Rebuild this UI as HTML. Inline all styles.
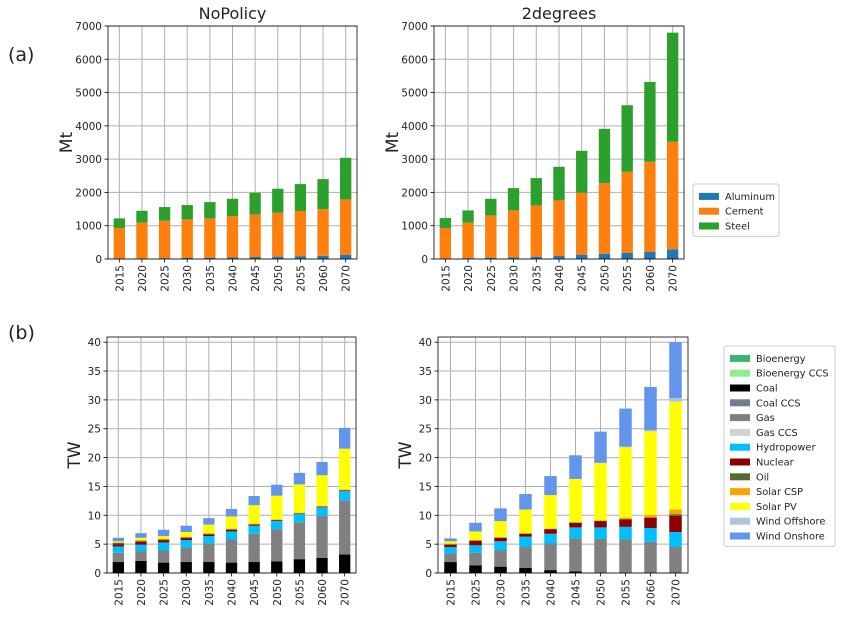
<!DOCTYPE html>
<html><head><meta charset="utf-8"><style>
body{margin:0;background:#fff;}
svg text{font-family:"DejaVu Sans","Liberation Sans",sans-serif;fill:#222;}
</style></head><body>
<svg id="fig" width="844" height="617" viewBox="0 0 844 617" xmlns="http://www.w3.org/2000/svg">
<text x="8" y="61" font-size="19">(a)</text>
<text x="8" y="339" font-size="19">(b)</text>
</svg>
<script>
const yearsA = ['2015','2020','2025','2030','2035','2040','2045','2050','2055','2060','2070'];
const yearsB = ['2015','2025','2030','2035','2040','2045','2050','2055','2060','2070'];
const matNames = ['Aluminum','Cement','Steel'];
const matColors = ['#1f77b4','#ff7f0e','#2ca02c'];
const npAluminum = [10,20,25,30,40,45,60,70,85,95,130];
const npCement = [920,1070,1125,1160,1180,1245,1280,1320,1355,1405,1660];
const npSteel = [290,360,410,430,490,520,650,720,810,900,1250];
const tdAluminum = [10,25,40,50,70,90,130,160,190,210,290];
const tdCement = [920,1065,1270,1410,1540,1670,1860,2120,2430,2710,3230];
const tdSteel = [300,370,500,670,820,1010,1260,1630,2000,2400,3280];
const matTicks = [0,1000,2000,3000,4000,5000,6000,7000];
const techNames = ['Bioenergy','Bioenergy CCS','Coal','Coal CCS','Gas','Gas CCS','Hydropower','Nuclear','Oil','Solar CSP','Solar PV','Wind Offshore','Wind Onshore'];
const techColors = ['#3cb371','#90ee90','#000000','#708090','#808080','#d3d3d3','#00bfff','#8b0000','#556b2f','#ffa500','#ffff00','#b0c4de','#6495ed'];
const npCoal = [1.9,2.1,1.8,1.9,1.9,1.8,1.9,2.0,2.4,2.6,3.2];
const npGas = [1.6,1.7,2.1,2.5,3.2,4.0,4.9,5.6,6.4,7.3,9.4];
const npHydro = [1.1,1.1,1.4,1.3,1.3,1.4,1.4,1.4,1.4,1.5,1.6];
const npNuclear = [0.4,0.5,0.4,0.4,0.3,0.3,0.2,0.15,0.1,0.1,0.1];
const npOil = [0.2,0.2,0.1,0.1,0.1,0.1,0.05,0.05,0.05,0.05,0.05];
const npCSP = [0.1,0.1,0.1,0.1,0.1,0.1,0.1,0.1,0.1,0.1,0.1];
const npSolar = [0.2,0.4,0.5,0.8,1.5,2.1,3.2,4.1,4.9,5.3,7.1];
const npWindOff = [0,0,0,0,0,0,0,0,0,0,0];
const npWind = [0.6,0.8,1.1,1.1,1.1,1.3,1.6,1.9,2.0,2.3,3.6];
const tdCoal = [1.9,1.3,1.1,0.9,0.5,0.3,0,0,0,0];
const tdGas = [1.5,2.2,2.8,3.6,4.6,5.7,5.9,5.8,5.4,4.5];
const tdHydro = [1.1,1.3,1.6,1.8,1.7,1.9,2.0,2.2,2.4,2.6];
const tdNuclear = [0.4,0.8,0.6,0.5,0.8,0.8,1.1,1.3,1.8,2.8];
const tdOil = [0.1,0.05,0.05,0.05,0.05,0.05,0.05,0.05,0.05,0.3];
const tdCSP = [0.1,0.05,0.05,0.05,0.05,0.05,0.1,0.25,0.4,0.8];
const tdSolar = [0.4,1.5,2.8,4.1,5.8,7.5,9.9,12.2,14.5,18.7];
const tdWindOff = [0,0,0,0,0,0,0.05,0.1,0.2,0.6];
const tdWind = [0.5,1.5,2.2,2.7,3.3,4.1,5.4,6.6,7.5,9.7];
const powTicks = [0,5,10,15,20,25,30,35,40];

const NS='http://www.w3.org/2000/svg';
const svg=document.getElementById('fig');
function mk(tag,attrs,parent){const e=document.createElementNS(NS,tag);for(const k in attrs)e.setAttribute(k,attrs[k]);(parent||svg).appendChild(e);return e;}

function panel(o){
  const g=mk('g',{});
  
  
  const n=o.cats.length, w=o.x1-o.x0, slot=w/n;
  const xc=i=>o.x0+slot*(i+0.5);
  const ys=v=>o.y1-(v/o.ymax)*(o.y1-o.y0);
  o.ticks.forEach(t=>{const y=ys(t);
    const l=mk('line',{x1:o.x0,x2:o.x1,y1:y,y2:y,stroke:'#b0b0b0','stroke-width':1},g);
    
    const tk=mk('line',{x1:o.x0-3.5,x2:o.x0,y1:y,y2:y,stroke:'#000','stroke-width':0.8},g);
    
    const tx=mk('text',{x:o.x0-6,y:y+4,'font-size':10.5,'text-anchor':'end'},g);tx.textContent=t;
    
  });
  o.cats.forEach((c,i)=>{const x=xc(i);
    const l=mk('line',{x1:x,x2:x,y1:o.y0,y2:o.y1,stroke:'#b0b0b0','stroke-width':1},g);
    
    const tk=mk('line',{x1:x,x2:x,y1:o.y1,y2:o.y1+3.5,stroke:'#000','stroke-width':0.8},g);
    
    const tx=mk('text',{x:0,y:0,'font-size':10.5,'text-anchor':'end',transform:`translate(${x+4},${o.y1+6}) rotate(-90)`},g);tx.textContent=c;
    
  });
  const bw=slot*0.5;
  o.cats.forEach((c,i)=>{let acc=0;
    o.series.forEach((s,k)=>{const v=s[i];if(!v){return;}
      const r=mk('rect',{x:xc(i)-bw/2,y:ys(acc+v),width:bw,height:ys(acc)-ys(acc+v),fill:o.colors[k]},g);
      
      
      acc+=v;});
  });
  const f=mk('rect',{x:o.x0,y:o.y0,width:w,height:o.y1-o.y0,fill:'none',stroke:'#000','stroke-width':0.8},g);
  
  const yl=mk('text',{x:0,y:0,'font-size':17,'text-anchor':'middle',transform:`translate(${o.ylx},${(o.y0+o.y1)/2}) rotate(-90)`},g);yl.textContent=o.ylabel;
  
  if(o.title){const t=mk('text',{x:(o.x0+o.x1)/2,y:o.y0-7,'font-size':16,'text-anchor':'middle'},g);t.textContent=o.title;
    }
}
panel({name:'panel-nopolicy-materials',cats:yearsA,x0:108,x1:357,y0:26,y1:259,ymax:7000,ticks:matTicks,series:[npAluminum,npCement,npSteel],colors:matColors,labels:matNames,ylabel:'Mt',ylx:72,title:'NoPolicy'});
panel({name:'panel-2degrees-materials',cats:yearsA,x0:434,x1:684,y0:26,y1:259,ymax:7000,ticks:matTicks,series:[tdAluminum,tdCement,tdSteel],colors:matColors,labels:matNames,ylabel:'Mt',ylx:398,title:'2degrees'});
panel({name:'panel-nopolicy-power',cats:yearsA,x0:107,x1:356,y0:337,y1:573,ymax:40.9,ticks:powTicks,series:[[],[],npCoal,[],npGas,[],npHydro,npNuclear,npOil,npCSP,npSolar,npWindOff,npWind],colors:techColors,labels:techNames,ylabel:'TW',ylx:80});
panel({name:'panel-2degrees-power',cats:yearsB,x0:438,x1:688,y0:337,y1:573,ymax:40.9,ticks:powTicks,series:[[],[],tdCoal,[],tdGas,[],tdHydro,tdNuclear,tdOil,tdCSP,tdSolar,tdWindOff,tdWind],colors:techColors,labels:techNames,ylabel:'TW',ylx:411});

function legend(name,x,y,w,names,colors,rowH){
  const g=mk('g',{});
  
  
  const b=mk('rect',{x:x,y:y,width:w,height:names.length*rowH+8,fill:'#fff',stroke:'#ccc','stroke-width':1,rx:2},g);
  
  names.forEach((n,i)=>{const yy=y+5+i*rowH;
    const s=mk('rect',{x:x+6,y:yy+rowH/2-3.5,width:20,height:7,fill:colors[i]},g);
    
    const t=mk('text',{x:x+32,y:yy+rowH/2+3.5,'font-size':9.8},g);t.textContent=n;
    
  });
}
legend('legend-materials',693,184,86,matNames,matColors,14.8);
legend('legend-technologies',724,346,111,techNames,techColors,14.8);
</script>
</body></html>
